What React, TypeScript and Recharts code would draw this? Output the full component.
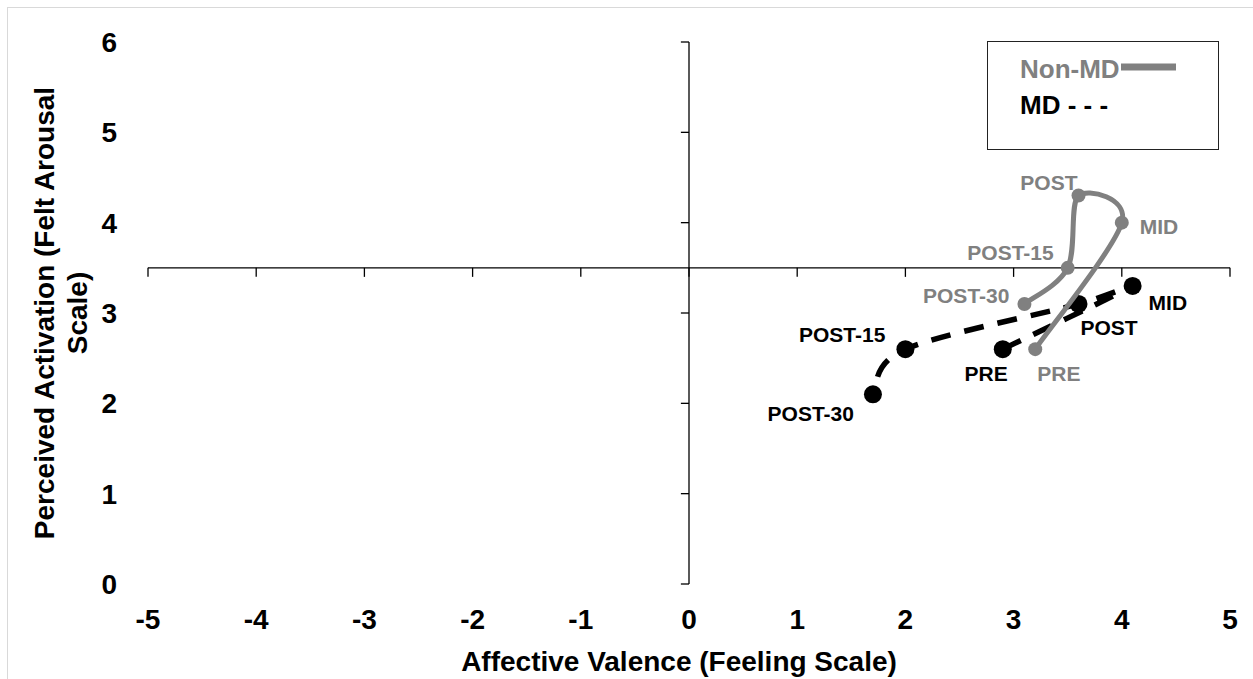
import React from "react";
import { ScatterChart, Scatter, XAxis, YAxis, ReferenceLine, Label, Legend } from "recharts";

const LABELS = ["PRE", "MID", "POST", "POST-15", "POST-30"];
const NON_MD_X = [3.2, 4.0, 3.6, 3.5, 3.1];
const NON_MD_Y = [2.6, 4.0, 4.3, 3.5, 3.1];
const MD_X = [2.9, 4.1, 3.6, 2.0, 1.7];
const MD_Y = [2.6, 3.3, 3.1, 2.6, 2.1];
const X_TICKS = [-5, -4, -3, -2, -1, 0, 1, 2, 3, 4, 5];
const Y_TICKS = [0, 1, 2, 3, 4, 5, 6];
const Y_CROSS = 3.5;
const X_CROSS = 0;

const FONT = "'Liberation Sans', Arial, sans-serif";
const GRAY = "#808080";
const BLACK = "#000000";

// label placement next to each marker: [dx, dy, anchor]
type Place = [number, number, "start" | "end" | "middle"];
const NON_MD_PLACE: Record<string, Place> = {
  PRE: [2, 32, "start"],
  MID: [18, 11, "start"],
  POST: [-1, -6, "end"],
  "POST-15": [-14, -8, "end"],
  "POST-30": [-15, -1, "end"],
};
const MD_PLACE: Record<string, Place> = {
  PRE: [5, 32, "end"],
  MID: [16, 24, "start"],
  POST: [2, 31, "start"],
  "POST-15": [-20, -7, "end"],
  "POST-30": [-19, 27, "end"],
};

const nonMd = LABELS.map((name, i) => ({ name, x: NON_MD_X[i], y: NON_MD_Y[i] }));
const md = LABELS.map((name, i) => ({ name, x: MD_X[i], y: MD_Y[i] }));

// Excel-style smoothed line (Catmull-Rom as cubic beziers)
function excelSmooth(context: any) {
  let pts: [number, number][] = [];
  return {
    areaStart() {},
    areaEnd() {},
    lineStart() {
      pts = [];
    },
    point(x: number, y: number) {
      pts.push([+x, +y]);
    },
    lineEnd() {
      if (!pts.length) return;
      context.moveTo(pts[0][0], pts[0][1]);
      for (let i = 0; i < pts.length - 1; i++) {
        const p0 = pts[i - 1] || pts[i];
        const p1 = pts[i];
        const p2 = pts[i + 1];
        const p3 = pts[i + 2] || p2;
        context.bezierCurveTo(
          p1[0] + (p2[0] - p0[0]) / 6,
          p1[1] + (p2[1] - p0[1]) / 6,
          p2[0] - (p3[0] - p1[0]) / 6,
          p2[1] - (p3[1] - p1[1]) / 6,
          p2[0],
          p2[1],
        );
      }
    },
  };
}

function makeShape(color: string, r: number, place: Record<string, Place>) {
  return (props: any) => {
    const { cx, cy, payload } = props;
    const [dx, dy, anchor] = place[payload.name];
    return (
      <g>
        <circle cx={cx} cy={cy} r={r} fill={color} />
        <text
          x={cx + dx}
          y={cy + dy}
          textAnchor={anchor}
          fontFamily={FONT}
          fontWeight="bold"
          fontSize={21}
          fill={color}
        >
          {payload.name}
        </text>
      </g>
    );
  };
}

function YTitle(props: any) {
  const { x, y, height } = props.viewBox;
  const cy = y + height / 2;
  const style = { fontFamily: FONT, fontWeight: "bold" as const, fontSize: 28, fill: BLACK };
  return (
    <g>
      <text x={x + 44} y={cy} transform={`rotate(-90 ${x + 44} ${cy})`} textAnchor="middle" dominantBaseline="central" {...style}>
        Perceived Activation (Felt Arousal
      </text>
      <text x={x + 77} y={cy} transform={`rotate(-90 ${x + 77} ${cy})`} textAnchor="middle" dominantBaseline="central" {...style}>
        Scale)
      </text>
    </g>
  );
}

function LegendBox() {
  const style = { fontFamily: FONT, fontWeight: "bold" as const, fontSize: 26 };
  return (
    <svg width={232} height={109} style={{ display: "block" }}>
      <rect x={0.5} y={0.5} width={231} height={108} fill="#fff" stroke="#222" strokeWidth={1} />
      <text x={33} y={37} fill={GRAY} {...style}>
        Non-MD
      </text>
      <line x1={134} x2={189} y1={26} y2={26} stroke={GRAY} strokeWidth={7} />
      <text x={33} y={73} fill={BLACK} {...style}>
        MD - - -
      </text>
    </svg>
  );
}

const TICK = { fontFamily: FONT, fontWeight: "bold", fontSize: 28, fill: BLACK } as const;

export default function App() {
  return (
    <div style={{ position: "absolute", left: 0, top: 0, width: 1253, height: 679, overflow: "hidden", background: "#fff" }}>
      <div
        style={{
          position: "absolute",
          left: 7,
          top: 7,
          width: 1300,
          height: 700,
          border: "1px solid #d9d9d9",
        }}
      />
      <div style={{ position: "absolute", left: 0, top: 0 }}>
        <ScatterChart width={1253} height={679} margin={{ top: 42, right: 23, left: 0, bottom: 0 }}>
          <XAxis
            type="number"
            dataKey="x"
            domain={[-5, 5]}
            ticks={X_TICKS}
            axisLine={false}
            tickLine={false}
            tickSize={0}
            tickMargin={25}
            tick={TICK}
            height={95}
            interval={0}
          >
            <Label
              value="Affective Valence (Feeling Scale)"
              position="insideBottom"
              offset={8}
              dx={-10}
              style={{ fontFamily: FONT, fontWeight: "bold", fontSize: 28, fill: BLACK }}
            />
          </XAxis>
          <YAxis
            type="number"
            dataKey="y"
            domain={[0, 6]}
            ticks={Y_TICKS}
            axisLine={false}
            tickLine={false}
            tickSize={0}
            tickMargin={31}
            tick={TICK}
            width={148}
            interval={0}
          >
            <Label content={YTitle} />
          </YAxis>
          <ReferenceLine x={X_CROSS} stroke={BLACK} strokeWidth={1.3} />
          <ReferenceLine y={Y_CROSS} stroke={BLACK} strokeWidth={1.3} />
          {X_TICKS.map((t) => (
            <ReferenceLine
              key={"xt" + t}
              segment={[
                { x: t, y: Y_CROSS },
                { x: t, y: Y_CROSS - 0.1 },
              ]}
              stroke={BLACK}
              strokeWidth={1.3}
            />
          ))}
          {Y_TICKS.map((t) => (
            <ReferenceLine
              key={"yt" + t}
              segment={[
                { x: X_CROSS, y: t },
                { x: X_CROSS - 0.075, y: t },
              ]}
              stroke={BLACK}
              strokeWidth={1.3}
            />
          ))}
          <Legend
            layout="horizontal"
            verticalAlign="middle"
            content={() => <LegendBox />}
            wrapperStyle={{ position: "absolute", left: 987, top: 41, width: 232, height: 109 }}
          />
          <Scatter
            name="MD"
            data={md}
            fill={BLACK}
            line={{ stroke: BLACK, strokeWidth: 5.5, strokeDasharray: "20 14" }}
            lineJointType={excelSmooth as any}
            shape={makeShape(BLACK, 9, MD_PLACE)}
            isAnimationActive={false}
          />
          <Scatter
            name="Non-MD"
            data={nonMd}
            fill={GRAY}
            line={{ stroke: GRAY, strokeWidth: 5 }}
            lineJointType={excelSmooth as any}
            shape={makeShape(GRAY, 7, NON_MD_PLACE)}
            isAnimationActive={false}
          />
        </ScatterChart>
      </div>
    </div>
  );
}
